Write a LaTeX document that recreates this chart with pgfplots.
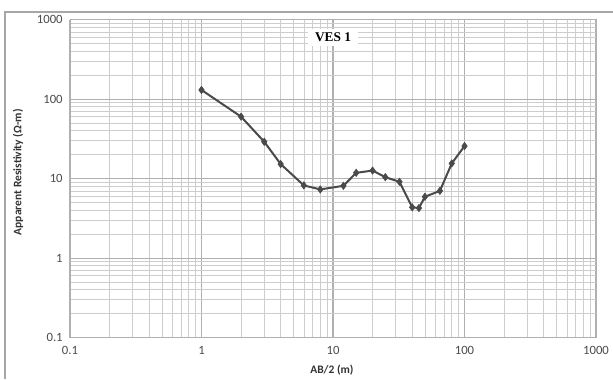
\documentclass[border=0pt]{standalone}
\usepackage{fontspec}
\setmainfont{Carlito}
\newfontfamily\serifb{Liberation Serif}
\usepackage{pgfplots}
\pgfplotsset{compat=1.18}
\definecolor{lineg}{HTML}{4A4A4A}
\definecolor{gridmaj}{HTML}{B0B0B0}
\definecolor{gridmin}{HTML}{CDCDCD}
\begin{document}
\begin{tikzpicture}
\useasboundingbox (0,0) rectangle (459.75pt,284.25pt);
\fill[white] (0,0) rectangle (459.75pt,284.25pt);
\draw[line width=1.6pt, color=gray!70] (3.75pt,0) -- (3.75pt,275.25pt) -- (459.75pt,275.25pt);
\begin{axis}[
  at={(52.5pt,31.1pt)}, anchor=south west,
  scale only axis, width=394.5pt, height=238.5pt,
  xmode=log, ymode=log,
  xmin=0.1, xmax=1000, ymin=0.1, ymax=1000,
  log ticks with fixed point,
  /pgf/number format/assume math mode=true,
  xtick={0.1,1,10,100,1000}, ytick={0.1,1,10,100,1000},
  xticklabels={0.1,1,10,100,1000}, yticklabels={0.1,1,10,100,1000},
  grid=both,
  major grid style={color=gridmaj, line width=0.8pt},
  minor grid style={color=gridmin, line width=0.5pt},
  major tick length=0pt, minor tick length=0pt,
  axis line style={color=gridmaj, line width=0.6pt},
  tick label style={font=\fontsize{9.5}{10}\selectfont, color=black!70},
  xticklabel style={yshift=-3pt},
  yticklabel style={xshift=-2pt},
  xlabel={\textbf{AB/2 (m)}},
  ylabel={\textbf{Apparent Resistivity (Ω-m)}},
  label style={font=\fontsize{8.6}{10}\selectfont, color=black!80},
  xlabel style={at={(axis description cs:0.498,-0.102)}, anchor=center},
  ylabel style={at={(axis description cs:-0.099,0.52)}, anchor=center},
]
\addplot[color=lineg, line width=1.5pt, mark=diamond*, mark size=2.7pt, mark options={fill=lineg, line width=0.5pt}]
coordinates {
(1,130) (2,60) (3,29) (4,15.2) (6,8.2) (8,7.3) (12,8.1) (15,11.8) (20,12.6) (25,10.4) (32,9.1) (40,4.35) (45,4.25) (50,5.9) (65,7.0) (80,15.5) (100,25.6)
};
\node[fill=white, inner xsep=5pt, inner ysep=3pt, font=\serifb\bfseries\fontsize{10}{11}\selectfont] at (axis description cs:0.5,0.945) {VES 1};
\end{axis}
\end{tikzpicture}
\end{document}
